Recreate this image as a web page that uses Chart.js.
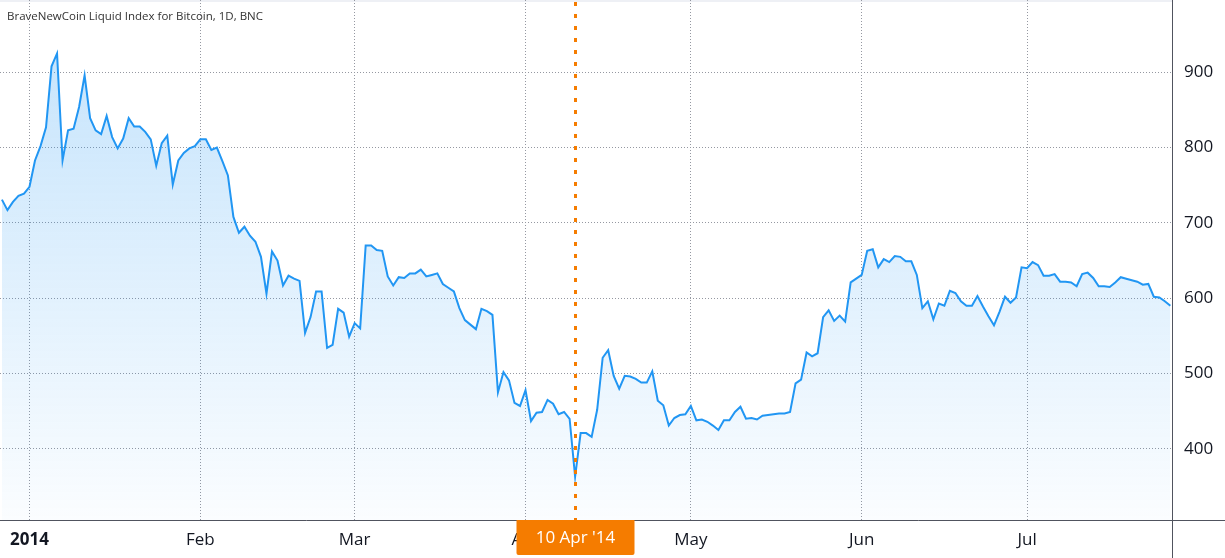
<!DOCTYPE html>
<html>
<head>
<meta charset="utf-8">
<script src="https://cdn.jsdelivr.net/npm/chart.js@4.4.1/dist/chart.umd.min.js"></script>
<style>
  html, body { margin: 0; padding: 0; background: #fff; overflow: hidden; }
  #wrap { width: 1225px; height: 558px; position: relative; }
  canvas { display: block; }
</style>
</head>
<body>
<div id="wrap"><canvas id="chart" width="1225" height="558"></canvas></div>
<script>
// Daily closes, BraveNewCoin Liquid Index for Bitcoin (USD)
const dec2013 = [731, 717, 728, 736, 739];
const jan2014 = [748, 783, 802, 827, 908, 925, 783, 823, 825, 854, 896, 839, 823, 818, 842, 814,
                 799, 812, 839, 828, 828, 821, 811, 776, 806, 816, 751, 783, 793, 799, 802];
const feb2014 = [811, 811, 797, 800, 782, 763, 708, 687, 695, 683, 675, 655, 606, 662, 650, 617,
                 630, 626, 623, 554, 575, 609, 609, 534, 538, 586, 581, 549];
const mar2014 = [567, 560, 670, 670, 664, 663, 629, 617, 628, 627, 633, 633, 638, 629, 631, 633,
                 619, 614, 609, 587, 571, 565, 559, 586, 583, 578, 475, 502, 491, 461, 457];
const apr2014 = [478, 437, 448, 449, 465, 460, 446, 449, 440, 363, 421, 421, 416, 452, 521, 531,
                 497, 480, 497, 496, 493, 488, 488, 503, 464, 458, 431, 441, 445, 446];
const may2014 = [457, 438, 439, 436, 431, 425, 438, 438, 449, 456, 440, 441, 439, 444, 445, 446,
                 447, 447, 449, 487, 492, 528, 523, 527, 575, 584, 570, 577, 569, 621, 626];
const jun2014 = [631, 663, 665, 641, 652, 648, 656, 655, 649, 649, 631, 587, 596, 572, 593, 590,
                 610, 607, 596, 590, 590, 603, 589, 576, 564, 582, 602, 594, 601, 641];
const jul2014 = [640, 648, 644, 630, 630, 632, 622, 622, 621, 616, 632, 634, 627, 616, 616, 615,
                 621, 628, 626, 624, 622, 618, 619, 602, 601, 596, 590];

// x is counted in days from 1 Jan 2014; the series starts on 27 Dec 2013
const firstDay = -5;
const monthStarts = [0, 31, 59, 90, 120, 151, 181];
const monthLabels = ['2014', 'Feb', 'Mar', 'Apr', 'May', 'Jun', 'Jul'];
const priceTicks = [400, 500, 600, 700, 800, 900];
const crosshairDay = 99;            // 10 Apr 2014
const crosshairLabel = "10 Apr '14";
const chartTitle = 'BraveNewCoin Liquid Index for Bitcoin, 1D, BNC';

const closes = [].concat(dec2013, jan2014, feb2014, mar2014, apr2014, may2014, jun2014, jul2014);
const points = closes.map((v, i) => ({ x: firstDay + i, y: v }));

const FONT = "'Open Sans', 'DejaVu Sans', sans-serif";
const ORANGE = '#f57c00';

// chart.js reserves room for half a tick label at the ends, the original doesn't
function noEndPadding(scale) {
  scale.paddingTop = 0;
  scale.paddingBottom = 0;
  scale.paddingLeft = 0;
  scale.paddingRight = 0;
}

const overlay = {
  id: 'overlay',
  beforeDraw(chart) {
    const { ctx, chartArea } = chart;
    ctx.save();
    ctx.fillStyle = '#eef0f5';
    ctx.fillRect(0, 0, chartArea.right, 2);
    ctx.restore();
  },
  afterDraw(chart) {
    const { ctx, chartArea, scales } = chart;
    const x = Math.round(scales.x.getPixelForValue(crosshairDay)) + 0.5;
    ctx.save();
    // axis lines
    ctx.strokeStyle = '#50535e';
    ctx.lineWidth = 1;
    ctx.beginPath();
    ctx.moveTo(0, chartArea.bottom + 0.5);
    ctx.lineTo(chart.width, chartArea.bottom + 0.5);
    ctx.moveTo(chartArea.right + 0.5, 0);
    ctx.lineTo(chartArea.right + 0.5, chart.height);
    ctx.stroke();

    // title
    ctx.fillStyle = '#333';
    ctx.font = '11.5px ' + FONT;
    ctx.textBaseline = 'middle';
    ctx.textAlign = 'left';
    ctx.fillText(chartTitle, 7, 17);

    // crosshair
    ctx.strokeStyle = ORANGE;
    ctx.lineWidth = 3;
    ctx.setLineDash([4, 8]);
    ctx.beginPath();
    ctx.moveTo(x, 2);
    ctx.lineTo(x, chartArea.bottom);
    ctx.stroke();
    ctx.setLineDash([]);

    // date badge
    const w = 118, h = 35, top = chartArea.bottom;
    const left = x - w / 2;
    ctx.fillStyle = ORANGE;
    ctx.beginPath();
    ctx.moveTo(left, top);
    ctx.lineTo(left + w, top);
    ctx.lineTo(left + w, top + h - 2);
    ctx.quadraticCurveTo(left + w, top + h, left + w - 2, top + h);
    ctx.lineTo(left + 2, top + h);
    ctx.quadraticCurveTo(left, top + h, left, top + h - 2);
    ctx.closePath();
    ctx.fill();
    ctx.fillStyle = '#fff';
    ctx.font = '17px ' + FONT;
    ctx.textAlign = 'center';
    ctx.fillText(crosshairLabel, x, top + h / 2 + 1);
    ctx.restore();
  }
};

new Chart(document.getElementById('chart'), {
  type: 'line',
  data: {
    datasets: [{
      data: points,
      borderColor: '#2196f3',
      borderWidth: 2,
      pointRadius: 0,
      tension: 0,
      fill: 'start',
      backgroundColor(context) {
        const { ctx, chartArea } = context.chart;
        if (!chartArea) return 'rgba(33,150,243,0.15)';
        const g = ctx.createLinearGradient(0, chartArea.top, 0, chartArea.bottom);
        g.addColorStop(0, 'rgba(33,150,243,0.28)');
        g.addColorStop(1, 'rgba(33,150,243,0.02)');
        return g;
      }
    }]
  },
  options: {
    responsive: false,
    animation: false,
    devicePixelRatio: 1,
    layout: { padding: 0 },
    plugins: { legend: { display: false }, tooltip: { enabled: false } },
    scales: {
      x: {
        type: 'linear',
        min: -5.35,
        max: 207.3,
        afterFit(scale) { scale.height = 38; noEndPadding(scale); },
        afterBuildTicks(scale) { scale.ticks = monthStarts.map(v => ({ value: v })); },
        grid: { color: '#9598a1', drawTicks: false },
        border: { display: false, dash: [1, 2] },
        ticks: {
          padding: 10,
          color: '#131722',
          autoSkip: false,
          maxRotation: 0,
          font(ctx) { return { family: FONT, size: 17, weight: ctx.index === 0 ? 'bold' : 'normal' }; },
          callback(value) { return monthLabels[monthStarts.indexOf(value)]; }
        }
      },
      y: {
        position: 'right',
        min: 305.6,
        max: 996,
        afterFit(scale) { scale.width = 53; noEndPadding(scale); },
        afterBuildTicks(scale) { scale.ticks = priceTicks.map(v => ({ value: v })); },
        grid: { color: '#9598a1', drawTicks: false },
        border: { display: false, dash: [1, 2] },
        ticks: {
          padding: 12,
          color: '#131722',
          autoSkip: false,
          font: { family: FONT, size: 17 },
          callback(value) { return String(value); }
        }
      }
    }
  },
  plugins: [overlay]
});
</script>
</body>
</html>
